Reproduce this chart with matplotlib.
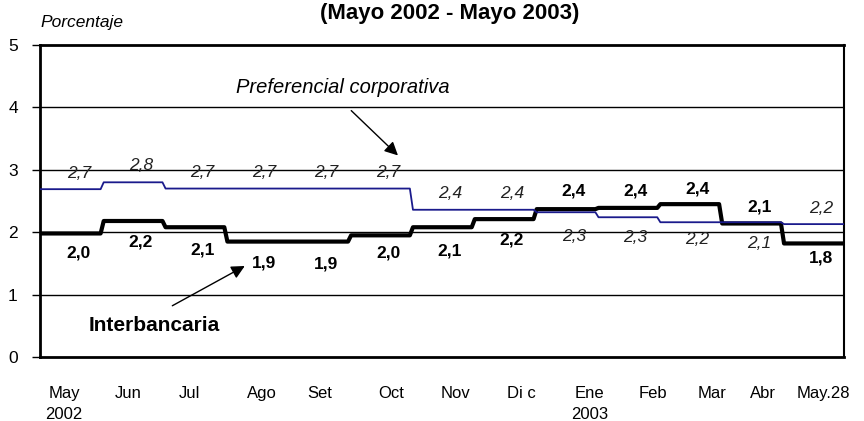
import numpy as np
import matplotlib.pyplot as plt

plt.rcParams['font.family'] = ['Liberation Sans', 'DejaVu Sans']

meses = ["May\n2002", "Jun", "Jul", "Ago", "Set", "Oct", "Nov", "Di c", "Ene\n2003", "Feb", "Mar", "Abr", "May.28"]
pos_meses = [0.39, 1.42, 2.41, 3.59, 4.53, 5.67, 6.71, 7.79, 8.89, 9.91, 10.86, 11.69, 12.67]

# nivel de cada tramo
preferencial = [2.69, 2.80, 2.70, 2.70, 2.70, 2.70, 2.36, 2.36, 2.32, 2.24, 2.16, 2.16, 2.13]
interbancaria = [1.98, 2.18, 2.08, 1.85, 1.85, 1.95, 2.08, 2.21, 2.37, 2.39, 2.45, 2.14, 1.82]

# etiquetas
pref_lab = ["2,7", "2,8", "2,7", "2,7", "2,7", "2,7", "2,4", "2,4", "2,3", "2,3", "2,2", "2,1", "2,2"]
inter_lab = ["2,0", "2,2", "2,1", "1,9", "1,9", "2,0", "2,1", "2,2", "2,4", "2,4", "2,4", "2,1", "1,8"]

# desplazamiento vertical de etiquetas (pixeles)
pref_dy = [16, 17, 16, 16, 16, 16, 16, 16, -24, -20, -17, -21, 16]
inter_dy = [-20, -21, -23, -21, -22, -18, -24, -21, 18, 17, 15, 16, -15]


def escalon(vals):
    n = len(vals)
    x = []
    y = []
    for i, v in enumerate(vals):
        x += [i + (0.03 if i > 0 else 0), i + 1 - (0.02 if i < n - 1 else 0)]
        y += [v, v]
    return x, y


fig = plt.figure(figsize=(8.64, 4.21), dpi=100)
ax = fig.add_axes([0.0463, 0.152, 0.9306, 0.741])

for g in [1, 2, 3, 4]:
    ax.axhline(g, color='black', lw=1.0, zorder=1)

xp, yp = escalon(preferencial)
xi, yi = escalon(interbancaria)
ax.plot(xp, yp, color='#1a1a8c', lw=1.3, zorder=3)
ax.plot(xi, yi, color='black', lw=3.0, zorder=2)

for i in range(len(pref_lab)):
    ax.annotate(pref_lab[i], (i + 0.5, preferencial[i]), xytext=(8, pref_dy[i]),
                textcoords='offset pixels', ha='center', va='center',
                fontsize=12.5, style='italic', color='#222222')
    ax.annotate(inter_lab[i], (i + 0.5, interbancaria[i]), xytext=(8, inter_dy[i]),
                textcoords='offset pixels', ha='center', va='center',
                fontsize=12.5, fontweight='bold', color='black')

ax.set_xlim(0, 13)
ax.set_ylim(0, 5)
ax.set_yticks([0, 1, 2, 3, 4, 5])
ax.set_yticklabels(['0', '1', '2', '3', '4', '5'], fontsize=12.5)
ax.set_xticks(pos_meses)
ax.set_xticklabels(meses, fontsize=12, va='top', linespacing=1.45)
ax.tick_params(axis='x', length=0, pad=21)
ax.tick_params(axis='y', length=6, width=1, pad=10)

for s in ['left', 'bottom', 'top']:
    ax.spines[s].set_linewidth(2)
ax.spines['right'].set_linewidth(1.5)

ax.annotate("", xy=(5.82, 3.2), xytext=(5.0, 3.98),
            arrowprops=dict(arrowstyle='-|>', color='black', lw=1.0, mutation_scale=20))
ax.text(4.9, 4.32, "Preferencial corporativa", style='italic', fontsize=14.5, ha='center', va='center')

ax.annotate("", xy=(3.35, 1.48), xytext=(2.1, 0.8),
            arrowprops=dict(arrowstyle='-|>', color='black', lw=1.0, mutation_scale=20))
ax.text(1.85, 0.51, "Interbancaria", fontweight='bold', fontsize=15, ha='center', va='center')

fig.text(40 / 864, 1 - 22 / 421, "Porcentaje", style='italic', fontsize=12.5, ha='left', va='center')
fig.text(450 / 864, 1 - 13 / 421, "(Mayo 2002 - Mayo 2003)", fontweight='bold', fontsize=16, ha='center', va='center')

fig.savefig("out.png", dpi=100)
